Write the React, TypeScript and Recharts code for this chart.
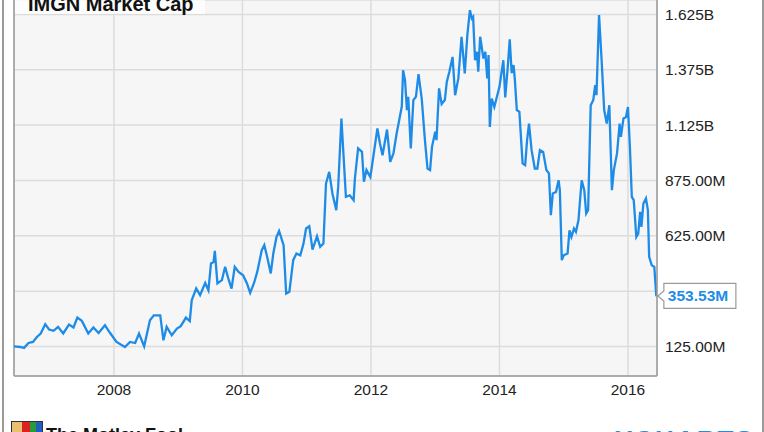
import { LineChart, Line, XAxis, YAxis, CartesianGrid, ReferenceLine } from "recharts";

// decimal years
const years = [
  2006.44, 2006.54, 2006.6, 2006.67, 2006.74, 2006.8, 2006.86, 2006.93, 2006.99, 2007.06,
  2007.13, 2007.21, 2007.3, 2007.37, 2007.43, 2007.5, 2007.6, 2007.68, 2007.76, 2007.86,
  2007.94, 2008.04, 2008.17, 2008.25, 2008.33, 2008.39, 2008.47, 2008.56, 2008.62, 2008.72,
  2008.77, 2008.82, 2008.9, 2008.98, 2009.04, 2009.12, 2009.18, 2009.21, 2009.28, 2009.34,
  2009.42, 2009.47, 2009.51, 2009.55, 2009.57, 2009.61, 2009.68, 2009.73, 2009.78, 2009.83,
  2009.88, 2009.94, 2010.01, 2010.07, 2010.12, 2010.18, 2010.23, 2010.3, 2010.34, 2010.39,
  2010.44, 2010.48, 2010.53, 2010.57, 2010.64, 2010.68, 2010.73, 2010.79, 2010.84, 2010.9,
  2010.95, 2010.99, 2011.04, 2011.09, 2011.16, 2011.21, 2011.26, 2011.3, 2011.35, 2011.4,
  2011.46, 2011.49, 2011.54, 2011.61, 2011.67, 2011.73, 2011.75, 2011.8, 2011.86, 2011.89,
  2011.93, 2011.99, 2012.01, 2012.1, 2012.14, 2012.18, 2012.25, 2012.3, 2012.35, 2012.4,
  2012.44, 2012.48, 2012.5, 2012.53, 2012.56, 2012.58, 2012.62, 2012.66, 2012.7, 2012.74,
  2012.79, 2012.84, 2012.88, 2012.92, 2012.95, 2013.0, 2013.02, 2013.06, 2013.1, 2013.15,
  2013.18, 2013.22, 2013.27, 2013.31, 2013.36, 2013.41, 2013.46, 2013.5, 2013.54, 2013.57,
  2013.59, 2013.62, 2013.65, 2013.67, 2013.7, 2013.75, 2013.78, 2013.81, 2013.83, 2013.85,
  2013.88, 2013.92, 2013.96, 2014.0, 2014.06, 2014.09, 2014.13, 2014.16, 2014.19, 2014.22,
  2014.24, 2014.27, 2014.31, 2014.36, 2014.4, 2014.43, 2014.46, 2014.5, 2014.55, 2014.59,
  2014.63, 2014.68, 2014.73, 2014.77, 2014.8, 2014.83, 2014.88, 2014.92, 2014.94, 2014.97,
  2015.0, 2015.06, 2015.09, 2015.12, 2015.16, 2015.19, 2015.23, 2015.25, 2015.28, 2015.32,
  2015.35, 2015.38, 2015.42, 2015.46, 2015.49, 2015.51, 2015.55, 2015.59, 2015.63, 2015.67,
  2015.71, 2015.75, 2015.78, 2015.83, 2015.87, 2015.89, 2015.93, 2015.97, 2016.0, 2016.03,
  2016.06, 2016.09, 2016.13, 2016.16, 2016.19, 2016.21, 2016.24, 2016.28, 2016.31, 2016.33,
  2016.37, 2016.41, 2016.44, 2016.45,
];

// market cap in millions of USD
const marketCap = [
  126, 123, 119, 141, 146, 168, 184, 226, 202, 196,
  214, 184, 224, 211, 256, 241, 184, 211, 186, 221,
  186, 146, 123, 146, 141, 184, 126, 244, 266, 266,
  153, 214, 176, 206, 217, 256, 240, 334, 387, 357,
  412, 379, 500, 507, 557, 410, 425, 485, 432, 387,
  485, 462, 447, 410, 367, 412, 462, 560, 583, 523,
  455, 545, 620, 647, 583, 364, 372, 515, 545, 537,
  590, 658, 668, 563, 623, 575, 590, 861, 914, 816,
  741, 846, 1155, 801, 808, 786, 884, 1020, 1004, 869,
  922, 891, 929, 1110, 1042, 989, 1105, 959, 997, 1088,
  1148, 1209, 1373, 1328, 1193, 1253, 1020, 1238, 1253, 1355,
  1245, 1057, 929, 922, 1027, 1095, 1057, 1291, 1220, 1238,
  1320, 1366, 1433, 1260, 1336, 1524, 1358, 1531, 1644, 1607,
  1614, 1418, 1456, 1366, 1524, 1426, 1456, 1336, 1441, 1117,
  1245, 1207, 1253, 1298, 1418, 1250, 1390, 1512, 1360, 1396,
  1328, 1193, 1185, 952, 944, 1057, 1132, 1012, 929, 929,
  1012, 1004, 922, 907, 718, 816, 823, 876, 831, 515,
  537, 545, 650, 620, 658, 643, 696, 771, 876, 831,
  726, 741, 1215, 1238, 1306, 1260, 1622, 1418, 1193, 1132,
  1215, 831, 922, 997, 1132, 1072, 1155, 1162, 1207, 1027,
  801, 786, 620, 635, 733, 665, 771, 794, 741, 530,
  492, 485, 357, 353.53,
];

const yearTicks = [2008, 2010, 2012, 2014, 2016];
const capTicks = [125, 375, 625, 875, 1125, 1375, 1625];
// 375.00M sits under the last-value callout, so it is not printed
const capTickLabels = ["125.00M", "", "625.00M", "875.00M", "1.125B", "1.375B", "1.625B"];
const title = "IMGN Market Cap";
const lastLabel = "353.53M";

const data = years.map((t, i) => ({ t, cap: marketCap[i] }));

const FONT = "'Liberation Sans', Arial, sans-serif";
const BLUE = "#1e8ce6";

const CapTick = (props: any) => {
  const { x, y, payload } = props;
  const i = capTicks.indexOf(payload.value);
  return (
    <text x={x} y={y} dy="0.355em" textAnchor="start" fill="#222" fontSize={15.5} fontFamily={FONT}>
      {capTickLabels[i]}
    </text>
  );
};

const Callout = (props: any) => {
  const { x, y, index } = props;
  if (index !== years.length - 1) return null;
  const bx = x + 7;
  const bw = 72;
  const h = 12.5;
  return (
    <g>
      <path
        d={`M${bx},${y - h} H${bx + bw} V${y + h} H${bx} V${y + 5} L${x + 1},${y} L${bx},${y - 5} Z`}
        fill="#fff"
        stroke="#9a9a9a"
        strokeWidth={1.2}
      />
      <text x={bx + 4} y={y} dy="0.355em" fill={BLUE} fontWeight="bold" fontSize={15.5} fontFamily={FONT}>
        {lastLabel}
      </text>
    </g>
  );
};

export default function App() {
  return (
    <div style={{ position: "absolute", left: 0, top: 0, width: 764, height: 432, background: "#fff", overflow: "hidden" }}>
      <LineChart width={764} height={432} data={data} margin={{ top: 0, left: 14, right: 7, bottom: 26 }}>
        <CartesianGrid fill="#f6f6f6" stroke="#dcdcdc" strokeWidth={1.5} />
        <XAxis
          dataKey="t"
          type="number"
          domain={[2006.444, 2016.452]}
          allowDataOverflow
          ticks={yearTicks}
          tickFormatter={(v: number) => String(v)}
          height={30}
          stroke="#9a9a9a"
          strokeWidth={1.5}
          tickLine={false}
          tick={{ fill: "#222", fontSize: 15.5, fontFamily: FONT }}
        />
        <YAxis
          orientation="right"
          type="number"
          domain={[-8, 1690]}
          allowDataOverflow
          ticks={capTicks}
          width={100}
          stroke="#9a9a9a"
          strokeWidth={1.5}
          tickLine={false}
          tick={<CapTick />}
        />
        <ReferenceLine x={2006.444} stroke="#9a9a9a" strokeWidth={1.5} />
        <Line
          dataKey="cap"
          type="linear"
          stroke={BLUE}
          strokeWidth={2.3}
          dot={false}
          isAnimationActive={false}
          label={<Callout />}
        />
      </LineChart>
      <div style={{ position: "absolute", left: 2, top: 0, width: 1.5, height: 432, background: "#9a9a9a" }} />
      <div style={{ position: "absolute", left: 762, top: 0, width: 1.5, height: 432, background: "#9a9a9a" }} />
      <div
        style={{
          position: "absolute",
          left: 15,
          top: 0,
          width: 190,
          height: 14,
          background: "rgba(255,255,255,0.75)",
        }}
      />
      <div
        style={{
          position: "absolute",
          left: 28,
          top: -7,
          fontFamily: FONT,
          fontWeight: "bold",
          fontSize: 20,
          lineHeight: "23px",
          color: "#111",
          whiteSpace: "nowrap",
        }}
      >
        {title}
      </div>
      <div
        style={{
          position: "absolute",
          left: 11,
          top: 421,
          width: 30,
          height: 14,
          border: "1px solid #333",
          background: "linear-gradient(90deg, #e8c070 0 35%, #d22 35% 60%, #2a9a3a 60% 80%, #1f5fbf 80%)",
        }}
      />
      <div
        style={{
          position: "absolute",
          left: 46,
          top: 424,
          fontFamily: FONT,
          fontWeight: "bold",
          fontSize: 18,
          lineHeight: "22px",
          color: "#111",
          whiteSpace: "nowrap",
        }}
      >
        The Motley Fool
      </div>
      <div
        style={{
          position: "absolute",
          left: 615,
          top: 425,
          fontFamily: FONT,
          fontWeight: "bold",
          fontSize: 26,
          lineHeight: "30px",
          color: BLUE,
          letterSpacing: 2,
          whiteSpace: "nowrap",
        }}
      >
        YCHARTS
      </div>
    </div>
  );
}
